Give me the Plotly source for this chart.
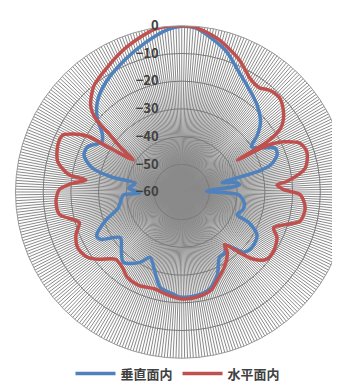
import plotly.graph_objects as go

# angles (deg, clockwise from top) and levels (dB)
red_theta = [0, 4.5, 13.3, 23.4, 31.4, 36.4, 41.2, 46.7, 53.1, 57.3, 59.6, 60.2, 61.1, 62.2,
             63.8, 67.7, 72.1, 79.1, 84.3, 85.7, 88.7, 91.3, 97.3, 103.8, 111.2, 115.5,
             122.5, 128.3, 133, 136, 140.9, 143, 150.5, 158, 163.1, 171.4, 180, 187.7,
             195.4, 205.1, 212.6, 218.3, 224.6, 231, 235.3, 242, 248.2, 253.4, 259.6,
             265.8, 271.1, 274, 277.2, 278.7, 283.8, 290.7, 295.5, 300.5, 301.5, 303.5,
             306, 308.7, 310.4, 313.5, 320.4, 328.2, 337, 345.6, 350.7, 355, 360]
red_db = [0, -0.3, -3.2, -7.9, -12.3, -13.1, -11.4, -11.1, -14, -17.7, -24.3, -36.8, -27.5, -22.5,
          -19, -13.8, -12.6, -14.6, -21.9, -25.5, -23.2, -17.2, -15.1, -16, -24.4, -21.9,
          -20.6, -20.9, -24.4, -29.2, -35.6, -32.7, -28.8, -25.7, -23.1, -21.7, -21.4, -22.5,
          -23.7, -22.9, -23.5, -25.4, -25.9, -21.4, -18.6, -17.4, -18.9, -21.4, -15.1,
          -14.5, -15.8, -19.4, -25.1, -18.9, -13.9, -12.2, -12.4, -20, -30, -39,
          -33, -26.3, -19.2, -14.7, -10.3, -7.9, -4.8, -2.0, -0.4, 0, 0]

blue_theta = [0, 5, 12, 18, 24.4, 33.2, 41.2, 48.4, 53.1, 57, 61, 65.1, 68.8, 73.1, 75, 77, 80,
              83, 88, 91, 93, 99.9, 106, 112.3, 114.5, 120, 128.3, 134, 140.2, 145, 150,
              156.8, 164, 172.9, 181, 183.9, 192.9, 198.4, 205.9, 210.6, 219.7, 225, 233.4,
              239.7, 242.9, 249.4, 256, 263, 267.1, 268.6, 274, 280.8, 282, 285, 290.7,
              295.6, 302, 306.3, 310.9, 316.8, 325.2, 337, 346.2, 355, 360]
blue_db = [-0.2, -0.6, -4, -7, -11.4, -15.6, -18.6, -22, -25.9, -30, -27, -22.7, -23.1, -26.5, -32,
           -45, -40, -39, -51, -44, -39.3, -37.1, -37, -38.4, -33.3, -28.6, -27.7, -28.7, -34.9,
           -33, -32.8, -27.4, -23.6, -22.2, -22.1, -22.8, -24.8, -29.5, -33.8, -30.5, -27, -29.2,
           -32.4, -26.1, -25.5, -30.6, -36.4, -38, -38.9, -45, -40.8, -42.9, -34.4, -26.6, -22.3,
           -22.3, -26, -24.4, -19.7, -15.5, -11.9, -8, -4.6, -1.2, -0.2]

radial_ticks = [0, -10, -20, -30, -40, -50, -60]

fig = go.Figure()
fig.add_trace(go.Scatterpolar(
    r=blue_db, theta=blue_theta, mode='lines', name='垂直面内',
    line=dict(color='#4f81bd', width=3.5, shape='spline', smoothing=0.8)
))
fig.add_trace(go.Scatterpolar(
    r=red_db, theta=red_theta, mode='lines', name='水平面内',
    line=dict(color='#c0504d', width=3.5, shape='spline', smoothing=0.8)
))

fig.update_layout(
    width=340, height=389,
    margin=dict(l=0, r=0, t=0, b=0),
    paper_bgcolor='white',
    font=dict(family='Noto Sans CJK JP', color='#404040'),
    polar=dict(
        domain=dict(x=[0.022, 1], y=[0.095, 0.959]),
        bgcolor='white',
        radialaxis=dict(
            range=[-60, 0], tickvals=radial_ticks, angle=90, side='counterclockwise',
            tickangle=90, showline=False, gridcolor='#7a7a7a', gridwidth=1,
            ticks='outside', ticklen=18, tickcolor='rgba(0,0,0,0)',
            tickfont=dict(size=13, color='#404040', family='Noto Sans CJK JP', weight='bold'),
        ),
        angularaxis=dict(
            rotation=90, direction='clockwise', tickmode='linear', dtick=1,
            showticklabels=False, ticks='', gridcolor='#8a8a8a', gridwidth=1,
            showline=True, linecolor='#9a9a9a', linewidth=1,
        ),
    ),
    legend=dict(
        orientation='h', x=0.5, xanchor='center', y=0.06, yanchor='middle',
        font=dict(size=13, color='#404040', weight='bold'), itemwidth=40,
    ),
)

fig.write_html("out.html")
